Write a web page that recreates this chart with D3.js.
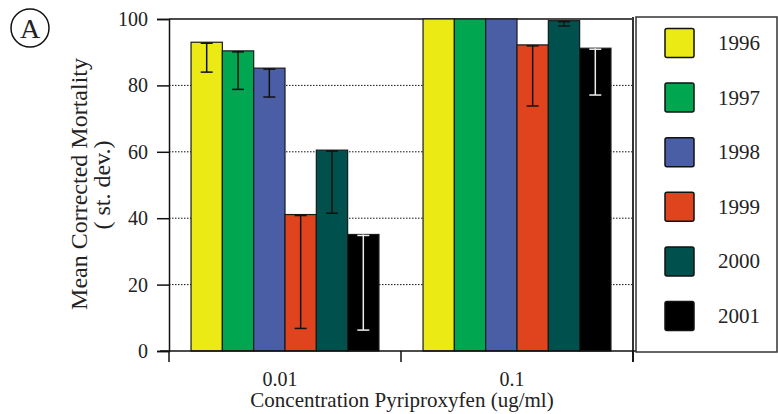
<!DOCTYPE html>
<html>
<head>
<meta charset="utf-8">
<script src="https://cdn.jsdelivr.net/npm/d3@7"></script>
<style>
  body { margin: 0; background: #fff; }
  svg text { font-family: "Liberation Serif", "DejaVu Serif", serif; fill: #222; }
</style>
</head>
<body>
<div id="chart"></div>
<script>
// data
var concentrations = ["0.01", "0.1"];
var years = ["1996", "1997", "1998", "1999", "2000", "2001"];
var colors = ["#ebea14", "#00a650", "#4a5ea6", "#df441e", "#00504e", "#000000"];
var mortality001 = [93.0, 90.4, 85.2, 41.1, 60.5, 35.1];
var stdev001 = [9.0, 11.6, 8.7, 34.3, 19.0, 28.8];
var mortality01 = [100, 100, 100, 92.2, 99.5, 91.2];
var stdev01 = [0, 0, 0, 18.4, 1.6, 14.1];
var yTicks = [0, 20, 40, 60, 80, 100];

var width = 778, height = 414;

var rows = [];
concentrations.forEach(function(c, ci) {
  var vals = ci == 0 ? mortality001 : mortality01;
  var sds = ci == 0 ? stdev001 : stdev01;
  years.forEach(function(yr, i) {
    rows.push({conc: c, year: yr, value: vals[i], sd: sds[i], color: colors[i]});
  });
});

var svg = d3.select("#chart").append("svg")
  .attr("width", width)
  .attr("height", height);

var plotLeft = 169, plotRight = 633, plotTop = 19, plotBottom = 351;

var x = d3.scaleBand()
  .domain(concentrations)
  .range([plotLeft, plotRight])
  .paddingInner(0.19)
  .paddingOuter(0.095);

var xIn = d3.scaleBand()
  .domain(years)
  .range([0, x.bandwidth()]);

var y = d3.scaleLinear()
  .domain([0, 100])
  .range([plotBottom, plotTop]);

// dotted grid
svg.append("g")
  .selectAll("line")
  .data(yTicks.filter(function(d) { return d > 0 && d < 100; }))
  .enter().append("line")
  .attr("x1", plotLeft).attr("x2", plotRight)
  .attr("y1", function(d) { return y(d); })
  .attr("y2", function(d) { return y(d); })
  .attr("stroke", "#111")
  .attr("stroke-width", 1)
  .attr("stroke-dasharray", "1.5,1.5");

// top frame lines
svg.append("line")
  .attr("x1", plotLeft).attr("x2", plotRight)
  .attr("y1", y(100)).attr("y2", y(100))
  .attr("stroke", "#111").attr("stroke-width", 1.5);
svg.append("line")
  .attr("x1", plotRight).attr("x2", plotRight)
  .attr("y1", y(100) - 2).attr("y2", plotBottom + 11)
  .attr("stroke", "#333").attr("stroke-width", 2);

// bars
var bar = svg.append("g")
  .selectAll("g")
  .data(rows)
  .enter().append("g")
  .attr("transform", function(d) { return "translate(" + (x(d.conc) + xIn(d.year)) + ",0)"; });

bar.append("rect")
  .attr("x", 0)
  .attr("y", function(d) { return y(d.value); })
  .attr("width", xIn.bandwidth())
  .attr("height", function(d) { return y(0) - y(d.value); })
  .attr("fill", function(d) { return d.color; })
  .attr("stroke", "#1a1a1a")
  .attr("stroke-width", 1.2);

// error bars (downward only)
var eb = bar.filter(function(d) { return d.sd > 0; });
var cx = xIn.bandwidth() / 2;
function ebColor(d) { return d.year == "2001" ? "#eee" : "#111"; }
eb.append("line")
  .attr("x1", cx).attr("x2", cx)
  .attr("y1", function(d) { return y(d.value); })
  .attr("y2", function(d) { return y(d.value - d.sd); })
  .attr("stroke", ebColor)
  .attr("stroke-width", 1.5);
eb.append("line")
  .attr("x1", cx - 6).attr("x2", cx + 6)
  .attr("y1", function(d) { return y(d.value - d.sd); })
  .attr("y2", function(d) { return y(d.value - d.sd); })
  .attr("stroke", ebColor)
  .attr("stroke-width", 1.5);
eb.append("line")
  .attr("x1", cx - 6).attr("x2", cx + 6)
  .attr("y1", function(d) { return y(d.value) + 1; })
  .attr("y2", function(d) { return y(d.value) + 1; })
  .attr("stroke", ebColor)
  .attr("stroke-width", 1.5);

// y axis
var yAxis = d3.axisLeft(y).tickValues(yTicks).tickSize(12).tickPadding(9);
var ga = svg.append("g")
  .attr("transform", "translate(" + plotLeft + ",0)")
  .call(yAxis);
ga.select(".domain").attr("stroke", "#111").attr("stroke-width", 1.5);
ga.selectAll(".tick line").attr("stroke", "#111").attr("stroke-width", 1.5);
ga.selectAll(".tick text")
  .style("font-family", "Liberation Serif, serif")
  .style("font-size", "20px")
  .attr("fill", "#222");

// x axis
svg.append("line")
  .attr("x1", plotLeft - 9).attr("x2", 650)
  .attr("y1", plotBottom).attr("y2", plotBottom)
  .attr("stroke", "#111").attr("stroke-width", 1.5);
var xTicks = [plotLeft, x.step() + plotLeft, plotRight];
svg.append("g").selectAll("line")
  .data(xTicks)
  .enter().append("line")
  .attr("x1", function(d) { return d; }).attr("x2", function(d) { return d; })
  .attr("y1", plotBottom).attr("y2", plotBottom + 11)
  .attr("stroke", "#111").attr("stroke-width", 1.5);

svg.append("g").selectAll("text")
  .data(concentrations)
  .enter().append("text")
  .attr("x", function(d) { return x(d) + x.bandwidth() / 2 - 5; })
  .attr("y", 386)
  .attr("text-anchor", "middle")
  .style("font-size", "20px")
  .text(function(d) { return d; });

svg.append("text")
  .attr("x", 402)
  .attr("y", 407)
  .attr("text-anchor", "middle")
  .style("font-size", "21px")
  .text("Concentration Pyriproxyfen (ug/ml)");

// y title
svg.append("text")
  .attr("transform", "translate(87,184) rotate(-90)")
  .attr("text-anchor", "middle")
  .style("font-size", "24px")
  .text("Mean Corrected Mortality");
svg.append("text")
  .attr("transform", "translate(110,185) rotate(-90)")
  .attr("text-anchor", "middle")
  .style("font-size", "24px")
  .text("( st. dev.)");

// panel label
svg.append("circle")
  .attr("cx", 30).attr("cy", 28).attr("r", 19)
  .attr("fill", "none").attr("stroke", "#111").attr("stroke-width", 1.5);
svg.append("text")
  .attr("x", 30).attr("y", 38)
  .attr("text-anchor", "middle")
  .style("font-size", "28px")
  .text("A");

// legend
var lg = svg.append("g");
lg.append("rect")
  .attr("x", 636).attr("y", 17)
  .attr("width", 141).attr("height", 335)
  .attr("fill", "#fff")
  .attr("stroke", "#333").attr("stroke-width", 1.5);

var item = lg.selectAll(".item")
  .data(years)
  .enter().append("g")
  .attr("class", "item")
  .attr("transform", function(d, i) { return "translate(665," + (43 + i * 54.6) + ")"; });

item.append("rect")
  .attr("x", 0).attr("y", -14.5)
  .attr("width", 29).attr("height", 29)
  .attr("rx", 2)
  .attr("fill", function(d, i) { return colors[i]; })
  .attr("stroke", "#111").attr("stroke-width", 1.5);

item.append("text")
  .attr("x", 53).attr("y", 7)
  .style("font-size", "21px")
  .text(function(d) { return d; });
</script>
</body>
</html>
